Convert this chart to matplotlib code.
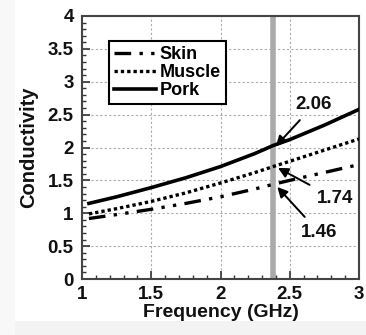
import matplotlib
matplotlib.use("Agg")
import matplotlib.pyplot as plt
from matplotlib.ticker import MultipleLocator
from matplotlib.patches import Rectangle

plt.rcParams['font.family'] = ['Liberation Sans', 'DejaVu Sans']
plt.rcParams['font.weight'] = 'bold'

freq = [1.05, 1.25, 1.5, 1.75, 2.0, 2.25, 2.38, 2.5, 2.75, 3.0]
skin = [0.92, 0.98, 1.06, 1.15, 1.25, 1.37, 1.44, 1.50, 1.62, 1.74]
muscle = [0.99, 1.07, 1.18, 1.31, 1.46, 1.62, 1.71, 1.79, 1.96, 2.13]
pork = [1.15, 1.25, 1.39, 1.54, 1.71, 1.91, 2.03, 2.12, 2.34, 2.58]
marker_freq = 2.38
labels = ["2.06", "1.74", "1.46"]

fig = plt.figure(figsize=(3.66, 3.35), dpi=100)
fig.patches.append(Rectangle((0, 0), 1, 14/335, transform=fig.transFigure,
                             facecolor='#f3f3f3', edgecolor='none', zorder=-5))
fig.patches.append(Rectangle((0, 0), 15/366, 1, transform=fig.transFigure,
                             facecolor='#f8f8f8', edgecolor='none', zorder=-5))
ax = fig.add_axes([82/366, 1-279/335, (359-82)/366, (279-16)/335])

ax.axvline(marker_freq, color='#aaaaaa', lw=4, zorder=1)
ax.plot(freq, skin, color='black', lw=2.4, linestyle=(0, (5, 2.5, 1, 2.5, 1, 2.5)), label='Skin', zorder=3)
ax.plot(freq, muscle, color='black', lw=2.4, linestyle=(0, (1, 0.9)), label='Muscle', zorder=3)
ax.plot(freq, pork, color='black', lw=2.6, linestyle='-', label='Pork', zorder=3)

ax.set_xlim(1, 3)
ax.set_ylim(0, 4)
ax.xaxis.set_minor_locator(MultipleLocator(0.1))
ax.yaxis.set_minor_locator(MultipleLocator(0.1))
ax.set_xticks([1, 1.5, 2, 2.5, 3])
ax.set_xticklabels(['1', '1.5', '2', '2.5', '3'])
ax.set_yticks([0, 0.5, 1, 1.5, 2, 2.5, 3, 3.5, 4])
ax.set_yticklabels(['0', '0.5', '1', '1.5', '2', '2.5', '3', '3.5', '4'])
ax.tick_params(which='both', direction='in', labelsize=13.5, colors='#333333', labelcolor='#111111')
ax.tick_params(which='major', length=6, width=1.2)
ax.tick_params(which='minor', length=3, width=1)
ax.tick_params(axis='y', pad=6)
ax.tick_params(axis='x', pad=5)
ax.grid(True, which='major', color='#aaaaaa', linestyle=(0, (2, 2)), lw=0.8)
for s in ax.spines.values():
    s.set_color('#444444')
    s.set_linewidth(1.5)

ax.set_xlabel('Frequency (GHz)', fontsize=14, fontweight='bold', labelpad=1, color='#111111')
ax.set_ylabel('Conductivity', fontsize=14.5, fontweight='bold', labelpad=7, color='#111111')

leg = ax.legend(loc='upper left', bbox_to_anchor=(0.065, 0.94), fontsize=13,
                handlelength=2.3, handletextpad=0.2, borderpad=0.3,
                labelspacing=0.05, fancybox=False, framealpha=1)
leg.get_frame().set_edgecolor('black')
leg.get_frame().set_linewidth(1.5)

ann = [((2.40, 2.02), (2.675, 2.65)),
       ((2.415, 1.69), (2.83, 1.22)),
       ((2.41, 1.40), (2.71, 0.71))]
for lab, (tip, txt) in zip(labels, ann):
    ax.annotate(lab, xy=tip, xytext=txt, fontsize=13.5, fontweight='bold',
                ha='center', va='center', zorder=4, color='#111111',
                arrowprops=dict(arrowstyle='-|>', color='black', lw=1.4,
                                mutation_scale=15, shrinkA=4, shrinkB=0))

fig.savefig('out.png', dpi=100)
